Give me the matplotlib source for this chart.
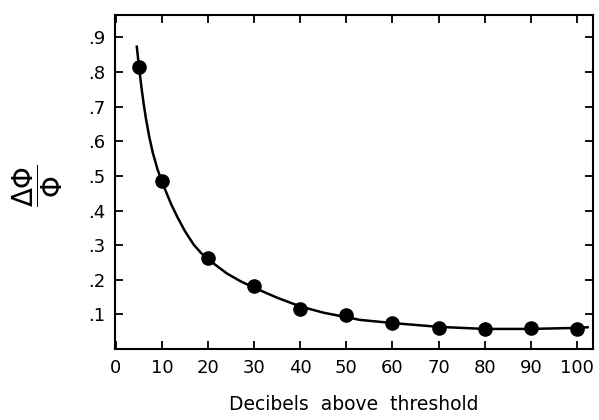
import matplotlib
matplotlib.use("Agg")
import matplotlib.pyplot as plt

# Measured data points
db_points = [5, 10, 20, 30, 40, 50, 60, 70, 80, 90, 100]
ratio_points = [0.816, 0.486, 0.262, 0.183, 0.117, 0.097, 0.074, 0.062, 0.057, 0.060, 0.059]

# Fitted curve
curve_db = [4.5, 5.0, 5.5, 6.0, 6.5, 7.2, 8.0, 9.0, 10.0, 11.0, 12.0, 13.3, 15.0, 16.9,
            18.5, 20.0, 24.1, 27.0, 30.0, 35.0, 40.0, 45.0, 53.0, 60.0, 70.0, 80.0, 90.0,
            100.0, 102.6]
curve_ratio = [0.877, 0.816, 0.760, 0.710, 0.667, 0.615, 0.567, 0.520, 0.483, 0.450, 0.418,
               0.382, 0.340, 0.301, 0.277, 0.259, 0.218, 0.196, 0.177, 0.148, 0.123, 0.105,
               0.084, 0.075, 0.064, 0.058, 0.058, 0.061, 0.063]

x_ticks = [0, 10, 20, 30, 40, 50, 60, 70, 80, 90, 100]
y_ticks = [0.1, 0.2, 0.3, 0.4, 0.5, 0.6, 0.7, 0.8, 0.9]
y_tick_labels = [".1", ".2", ".3", ".4", ".5", ".6", ".7", ".8", ".9"]

fig = plt.figure(figsize=(5.99, 4.20), dpi=100)
ax = fig.add_axes([115 / 599, 71 / 420, 478 / 599, 334 / 420])

ax.plot(curve_db, curve_ratio, color="black", linewidth=1.8, solid_capstyle="butt")
ax.plot(db_points, ratio_points, "o", color="black", markersize=9.5)

ax.set_xlim(-0.2, 103.5)
ax.set_ylim(0, 0.965)
ax.set_xticks(x_ticks)
ax.set_xticklabels([str(v) for v in x_ticks])
ax.set_yticks(y_ticks)
ax.set_yticklabels(y_tick_labels)

for s in ax.spines.values():
    s.set_linewidth(1.5)
ax.tick_params(direction="in", length=6, width=1.3, top=True, right=True,
               labelsize=13, pad=7)

ax.set_xlabel("Decibels  above  threshold", fontsize=13.5, labelpad=13)
fig.text(38 / 599, 1 - 186 / 420, r"$\dfrac{\Delta\Phi}{\Phi}$", rotation=90,
         fontsize=20, ha="center", va="center")

fig.savefig("out.png", dpi=100)
